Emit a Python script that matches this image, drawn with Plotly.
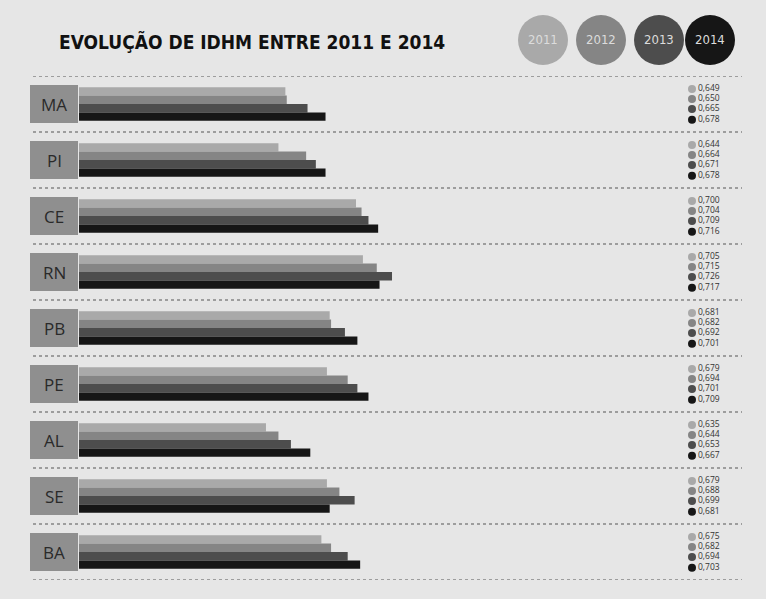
import plotly.graph_objects as go

estados = ['MA', 'PI', 'CE', 'RN', 'PB', 'PE', 'AL', 'SE', 'BA']
anos = ['2011', '2012', '2013', '2014']
idhm = {
    '2011': [0.649, 0.644, 0.700, 0.705, 0.681, 0.679, 0.635, 0.679, 0.675],
    '2012': [0.650, 0.664, 0.704, 0.715, 0.682, 0.694, 0.644, 0.688, 0.682],
    '2013': [0.665, 0.671, 0.709, 0.726, 0.692, 0.701, 0.653, 0.699, 0.694],
    '2014': [0.678, 0.678, 0.716, 0.717, 0.701, 0.709, 0.667, 0.681, 0.703],
}
cores = ['#a9a9a9', '#858585', '#4d4d4d', '#161616']

W, H = 766, 599
BASE = 0.5
x0 = BASE - 79 / 1385
x1 = BASE + (W - 79) / 1385

fig = go.Figure()
for ano, cor in zip(anos, cores):
    fig.add_trace(go.Bar(
        y=estados, x=[v - BASE for v in idhm[ano]], base=BASE,
        orientation='h', marker=dict(color=cor, line_width=0),
        name=ano, hoverinfo='skip'))

# value legends per row
offs = [-0.27, -0.09, 0.09, 0.28]
for k, (ano, cor) in enumerate(zip(anos, cores)):
    fig.add_trace(go.Scatter(
        x=[692] * len(estados), y=[i + offs[k] for i in range(len(estados))],
        xaxis='x2', yaxis='y2', mode='markers+text',
        marker=dict(color=cor, size=8),
        text=[f'{v:.3f}'.replace('.', ',') for v in idhm[ano]],
        textposition='middle right',
        textfont=dict(family='Open Sans', size=8.5, color='#333'),
        hoverinfo='skip', showlegend=False))

shapes = []
for i in range(len(estados) + 1):
    shapes.append(dict(type='line', xref='x2', yref='y2', x0=33, x1=742,
                       y0=i - 0.5, y1=i - 0.5,
                       line=dict(color='#555', width=1, dash='dot')))
annotations = []
for i, e in enumerate(estados):
    shapes.append(dict(type='rect', xref='x2', yref='y2', x0=30, x1=78,
                       y0=i - 0.34, y1=i + 0.34, fillcolor='#8f8f8f',
                       line_width=0, layer='below'))
    annotations.append(dict(xref='x2', yref='y2', x=54, y=i, text=e,
                            showarrow=False, xanchor='center',
                            font=dict(family='Open Sans', size=17, color='#2a2a2a')))

cx = [543, 601, 659, 710]
for c, cor, ano in zip(cx, cores, anos):
    shapes.append(dict(type='circle', xref='paper', yref='paper',
                       x0=(c - 25) / W, x1=(c + 25) / W,
                       y0=1 - 65 / H, y1=1 - 15 / H,
                       fillcolor=cor, line_width=0))
    annotations.append(dict(xref='paper', yref='paper', x=c / W, y=1 - 40 / H,
                            text=ano, showarrow=False,
                            xanchor='center', yanchor='middle',
                            font=dict(family='DejaVu Sans Condensed', size=13,
                                      color='#dcdcdc')))

annotations.append(dict(xref='paper', yref='paper', x=57 / W, y=1 - 42 / H,
                        xanchor='left', yanchor='middle', showarrow=False,
                        text='<b>EVOLUÇÃO DE IDHM ENTRE 2011 E 2014</b>',
                        font=dict(family='DejaVu Sans Condensed', size=19,
                                  color='#111')))

dom = [(H - 580) / H, (H - 76) / H]
fig.update_layout(
    width=W, height=H, margin=dict(l=0, r=0, t=0, b=0),
    paper_bgcolor='#e6e6e6', plot_bgcolor='#e6e6e6',
    barmode='group', bargap=0.4, bargroupgap=0, showlegend=False,
    xaxis=dict(range=[x0, x1], visible=False, domain=[0, 1]),
    yaxis=dict(domain=dom, autorange='reversed', visible=False),
    xaxis2=dict(range=[0, W], overlaying='x', visible=False),
    yaxis2=dict(range=[len(estados) - 0.5, -0.5], domain=dom,
                overlaying='y', visible=False),
    shapes=shapes, annotations=annotations,
)
fig.write_html('out.html', config={'displayModeBar': False})

# drop the default page margin so the figure fills the window
with open('out.html', encoding='utf-8') as f:
    page = f.read()
page = page.replace('<head>', '<head><style>html,body{margin:0;padding:0;overflow:hidden;background:#e6e6e6}</style>', 1)
with open('out.html', 'w', encoding='utf-8') as f:
    f.write(page)
